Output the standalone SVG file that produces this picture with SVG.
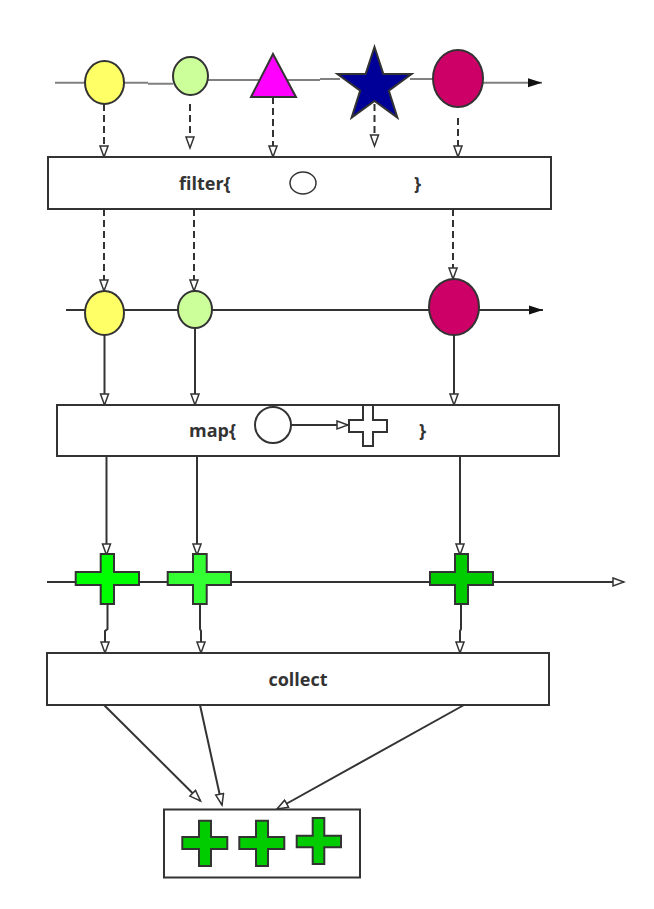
<svg xmlns="http://www.w3.org/2000/svg" width="654" height="909" viewBox="0 0 654 909">
<style>
.box{fill:#fff;stroke:#333;stroke-width:2}
.shape{stroke:#333;stroke-width:2}
.conn{fill:none;stroke:#333;stroke-width:2}
.dash{stroke-dasharray:7 4}
.axis1{fill:none;stroke:#808080;stroke-width:2}
.lbl{font-family:"Open Sans","Noto Sans","DejaVu Sans",sans-serif;font-weight:bold;font-size:18px;fill:#333}
.cross{stroke:#333;stroke-width:2;stroke-linejoin:miter}
</style>
<defs>
<marker id="open" markerUnits="userSpaceOnUse" markerWidth="14" markerHeight="12" refX="12" refY="5" orient="auto">
<path d="M1,1 L12,5 L1,9 z" fill="#fff" stroke="#333" stroke-width="1.5"/>
</marker>
<marker id="fill" markerUnits="userSpaceOnUse" markerWidth="16" markerHeight="12" refX="14" refY="5" orient="auto">
<path d="M0,0.5 L14,5 L0,9.5 z" fill="#111"/>
</marker>
</defs>

<g id="stream1">
<path class="axis1" d="M55,82.7 H85 M124,82.7 H148 M148,83.7 H173 M208,80 H320 M320,79 H340 M410,79 H433"/>
<line x1="483" y1="82.7" x2="542" y2="82.7" stroke="#808080" stroke-width="2" marker-end="url(#fill)"/>
</g>
<g id="stream2">
<line x1="66" y1="310" x2="543" y2="310" class="conn" marker-end="url(#fill)"/>
</g>
<g id="stream3">
<line x1="47" y1="582" x2="624" y2="582" class="conn" marker-end="url(#open)"/>
</g>

<g id="connectors">
<line class="conn dash" x1="104" y1="104" x2="104" y2="157" marker-end="url(#open)"/>
<line class="conn dash" x1="190" y1="104" x2="190" y2="148" marker-end="url(#open)"/>
<line class="conn dash" x1="273" y1="97" x2="273" y2="157" marker-end="url(#open)"/>
<line class="conn dash" x1="374.5" y1="104" x2="374.5" y2="146" marker-end="url(#open)"/>
<line class="conn dash" x1="458" y1="118" x2="458" y2="157" marker-end="url(#open)"/>
<line class="conn dash" x1="104" y1="209" x2="104" y2="291" marker-end="url(#open)"/>
<line class="conn dash" x1="194" y1="209" x2="194" y2="291" marker-end="url(#open)"/>
<line class="conn dash" x1="453" y1="209" x2="453" y2="279" marker-end="url(#open)"/>
<line class="conn" x1="104.5" y1="335" x2="104.5" y2="405" marker-end="url(#open)"/>
<line class="conn" x1="195" y1="328" x2="195" y2="405" marker-end="url(#open)"/>
<line class="conn" x1="454" y1="335" x2="454" y2="405" marker-end="url(#open)"/>
<line class="conn" x1="106.5" y1="456" x2="106.5" y2="555" marker-end="url(#open)"/>
<line class="conn" x1="197" y1="456" x2="197" y2="555" marker-end="url(#open)"/>
<line class="conn" x1="460" y1="456" x2="460" y2="555" marker-end="url(#open)"/>
<path class="conn" d="M107.5,604 V629 L105,631 V653" marker-end="url(#open)"/>
<path class="conn" d="M200,604 V629 L201,631 V653" marker-end="url(#open)"/>
<path class="conn" d="M461,604 V629 L460,631 V653" marker-end="url(#open)"/>
<line class="conn" x1="104" y1="705" x2="200.5" y2="801" marker-end="url(#open)"/>
<line class="conn" x1="200" y1="705" x2="222" y2="805" marker-end="url(#open)"/>
<line class="conn" x1="464" y1="705" x2="277" y2="809" marker-end="url(#open)"/>
</g>

<g id="s1-yellow"><ellipse class="shape" cx="104.5" cy="82.5" rx="19.5" ry="21.5" fill="#ffff66"/></g>
<g id="s1-green"><ellipse class="shape" cx="190.5" cy="76" rx="17.5" ry="19" fill="#ccff99"/></g>
<g id="s1-triangle"><polygon class="shape" points="273,54 296,97 251,97" fill="#ff00ff"/></g>
<g id="s1-star"><polygon class="shape" points="374.5,47 383.3,73.9 411.6,74 388.8,90.6 397.4,117.6 374.5,101 351.6,117.6 360.2,90.6 337.4,74 365.7,73.9" fill="#000099"/></g>
<g id="s1-crimson"><ellipse class="shape" cx="458" cy="78.5" rx="25" ry="28.5" fill="#cc0066"/></g>

<g id="filter">
<rect class="box" x="48" y="157" width="503" height="52"/>
<text class="lbl" x="179" y="190">filter{</text>
<ellipse cx="303" cy="183" rx="13" ry="11" fill="#fff" stroke="#333" stroke-width="1.5"/>
<text class="lbl" x="414" y="190">}</text>
</g>

<g id="s2-yellow"><ellipse class="shape" cx="104.5" cy="313" rx="19.5" ry="22" fill="#ffff66"/></g>
<g id="s2-green"><ellipse class="shape" cx="195" cy="309.5" rx="17" ry="18.5" fill="#ccff99"/></g>
<g id="s2-crimson"><ellipse class="shape" cx="454" cy="307" rx="25" ry="28" fill="#cc0066"/></g>

<g id="map">
<rect class="box" x="57" y="405" width="502" height="51"/>
<text class="lbl" x="189" y="437">map{</text>
<circle cx="273" cy="425" r="18" fill="#fff" stroke="#333" stroke-width="2"/>
<line class="conn" x1="291" y1="425" x2="348" y2="425" stroke-width="1.5" marker-end="url(#open)"/>
<polygon class="cross" fill="#fff" points="363,405 373,405 373,420 387,420 387,432 373,432 373,446 363,446 363,432 349,432 349,420 363,420"/>
<text class="lbl" x="419" y="437">}</text>
</g>

<g id="s3-plus1"><polygon class="cross" fill="#00ff00" points="100.7,554 114,554 114,572 139,572 139,585 114,585 114,604 100.7,604 100.7,585 75.7,585 75.7,572 100.7,572"/></g>
<g id="s3-plus2"><polygon class="cross" fill="#33ff33" points="193,554 206.7,554 206.7,572 231,572 231,585 206.7,585 206.7,604 193,604 193,585 167.7,585 167.7,572 193,572"/></g>
<g id="s3-plus3"><polygon class="cross" fill="#00cc00" points="455,554 468,554 468,572 493,572 493,585 468,585 468,604 455,604 455,585 430,585 430,572 455,572"/></g>

<g id="collect">
<rect class="box" x="47" y="653" width="502" height="52"/>
<text class="lbl" x="298" y="686" text-anchor="middle">collect</text>
</g>

<g id="result">
<rect class="box" x="164" y="809.5" width="196" height="68"/>
<polygon class="cross" fill="#00cc00" points="199,820.7 211,820.7 211,837 227.3,837 227.3,849 211,849 211,866 199,866 199,849 182.3,849 182.3,837 199,837"/>
<polygon class="cross" fill="#00cc00" points="256,820.7 268,820.7 268,837 284.3,837 284.3,849 268,849 268,866 256,866 256,849 239.3,849 239.3,837 256,837"/>
<polygon class="cross" fill="#00cc00" points="312.7,818 324.3,818 324.3,835.7 341,835.7 341,847.3 324.3,847.3 324.3,864 312.7,864 312.7,847.3 296.7,847.3 296.7,835.7 312.7,835.7"/>
</g>
</svg>
